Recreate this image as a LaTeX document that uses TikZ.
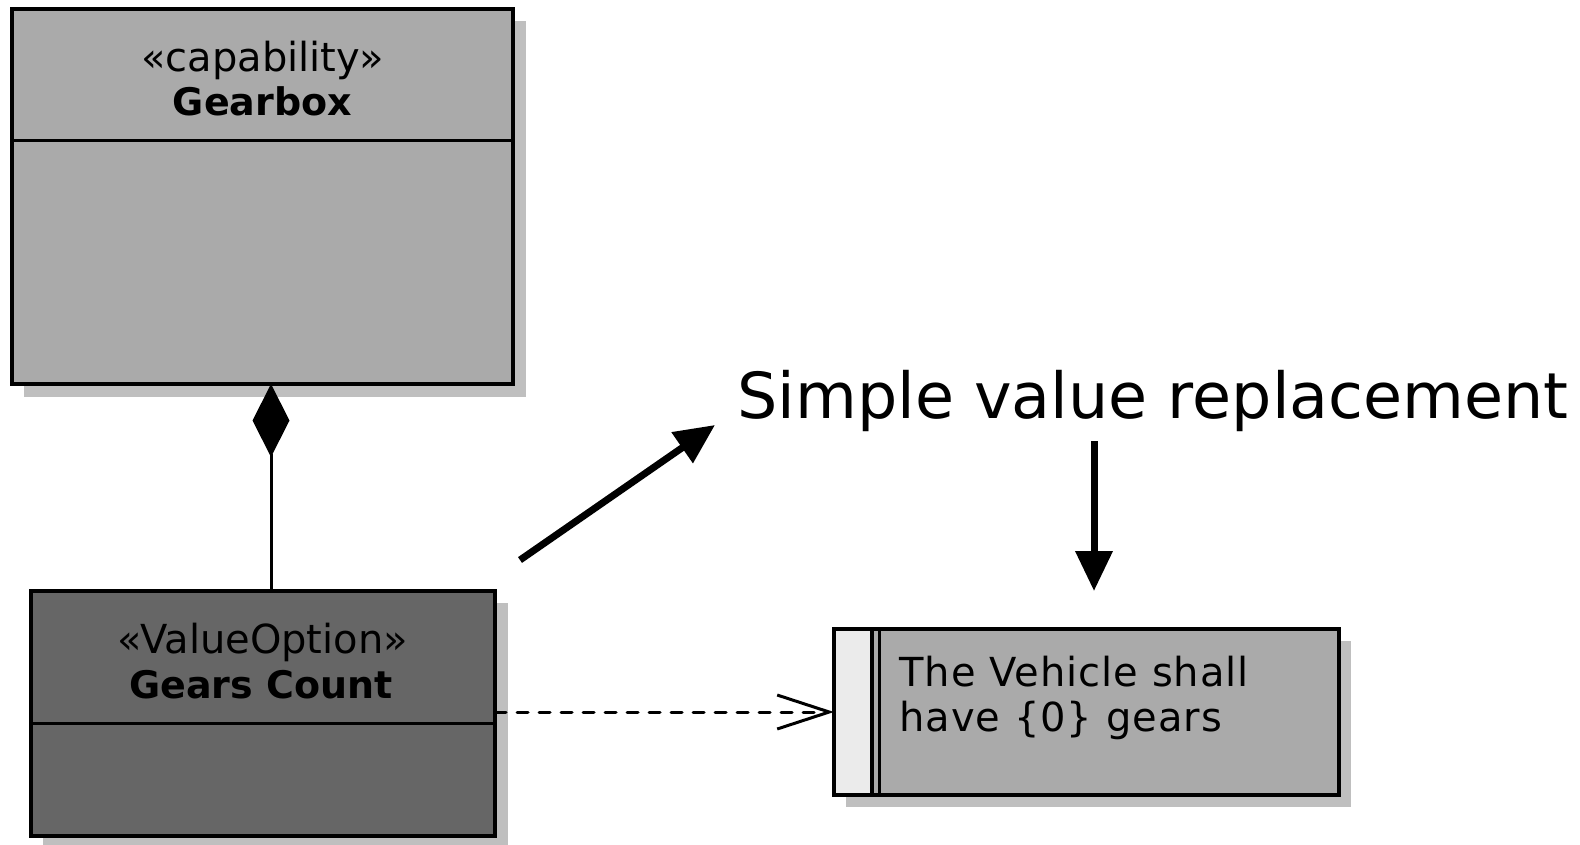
\documentclass[tikz,border=0pt]{standalone}
\usepackage{fontspec}
\setmainfont{DejaVu Sans}
\newfontfamily\spacedfont[LetterSpace=2.5]{DejaVu Sans}
\usetikzlibrary{arrows.meta}
\definecolor{classfill}{HTML}{AAAAAA}
\definecolor{optfill}{HTML}{666666}
\definecolor{shadowgray}{HTML}{BFBFBF}
\definecolor{stripfill}{HTML}{EBEBEB}
\begin{document}
\begin{tikzpicture}[x=1pt,y=-1pt,
  box/.style={draw=black,line width=4pt,anchor=north west,inner sep=0pt,outer sep=0pt},
  dropshadow/.style={fill=shadowgray},
  divider/.style={line width=3pt},
  body/.style={font=\spacedfont\fontsize{40}{44}\selectfont,inner sep=0pt},
  stereo/.style={inner sep=0pt,anchor=base,font=\fontsize{40}{44}\selectfont},
  title/.style={inner sep=0pt,anchor=base,font=\fontsize{38}{44}\selectfont\bfseries},
  reqtext/.style={body,anchor=base west},
  bigarrow/.style={line width=7pt,-{Triangle[length=40pt,width=36pt]}},
  compose/.style={line width=3pt,-{Diamond[length=73pt,width=37pt]}},
  depend/.style={line width=3pt,dash pattern=on 11pt off 11pt,line cap=round,
    -{Straight Barb[length=52pt,width=34pt,line cap=butt]}}]
\useasboundingbox (0,0) rectangle (1580,844);

% drop shadows
\path[dropshadow] (24,21) rectangle (526,397);
\path[dropshadow] (43,603) rectangle (508,850);
\path[dropshadow] (846,641) rectangle (1351,807);

% capability class
\node[box,fill=classfill,minimum width=501pt,minimum height=375pt] (gb) at (12,9) {};
\draw[divider] (12,140) -- (513,140);
\node[stereo] (gbst) at (262.5,71) {«capability»};
\node[title] (gbname) at (262.5,115) {Gearbox};

% value option class
\node[box,fill=optfill,minimum width=464pt,minimum height=245pt] (gc) at (31,591) {};
\draw[divider] (31,723) -- (495,723);
\node[stereo] (gcst) at (263,653) {«ValueOption»};
\node[title] (gcname) at (261,698) {Gears Count};

% requirement
\node[box,fill=classfill,minimum width=505pt,minimum height=166pt] (req) at (834,629) {};
\fill[stripfill] (836,631) rectangle (872,793);
\draw[line width=4pt] (872,629) -- (872,795);
\draw[line width=3pt] (879,629) -- (879,795);
\node[reqtext] (reqa) at (899,686) {The Vehicle shall};
\node[reqtext] (reqb) at (899,731) {have \{0\} gears};

% annotation
\node[anchor=base west,inner sep=0pt,font=\fontsize{63.5}{70}\selectfont] (lbl) at (737,418) {Simple value replacement};

% connectors
\coordinate (cx) at (271,0);
\draw[compose] (gc.north -| cx) -- (gb.south -| cx);
\draw[depend] (gc.east |- req.west) -- (req.west);

\coordinate (a0) at (520,560);
\coordinate (a1) at (715,425);
\draw[bigarrow] (a0) -- (a1);
\coordinate (d0) at (1094,441);
\coordinate (d1) at (1094,591);
\draw[bigarrow] (d0) -- (d1);
\end{tikzpicture}
\end{document}
